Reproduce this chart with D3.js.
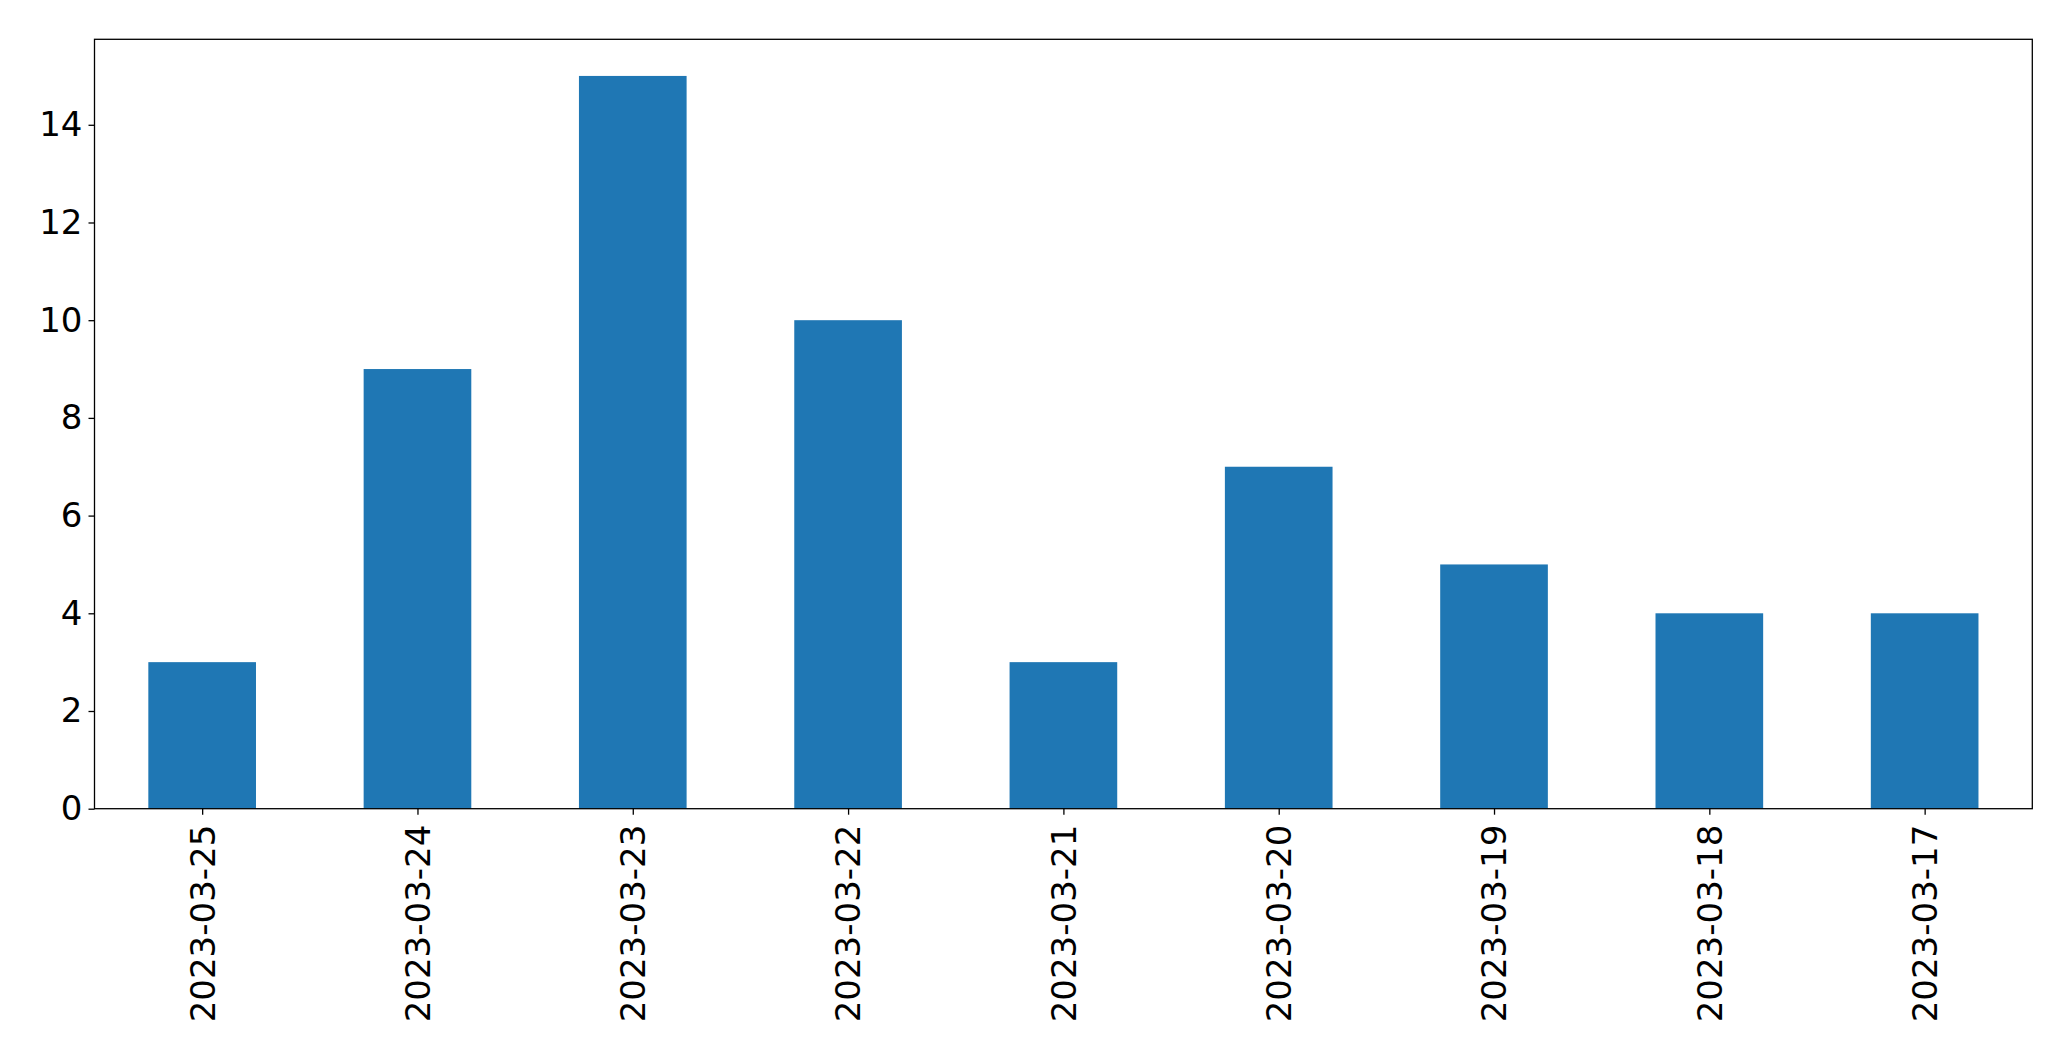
<!DOCTYPE html>
<html>
<head>
<meta charset="utf-8">
<script src="https://cdn.jsdelivr.net/npm/d3@7"></script>
<style>
html,body{margin:0;padding:0;background:#fff;}
svg{display:block;}
text{font-family:"DejaVu Sans",sans-serif;fill:#000;}
</style>
</head>
<body>
<script>
const categories = ["2023-03-25","2023-03-24","2023-03-23","2023-03-22","2023-03-21","2023-03-20","2023-03-19","2023-03-18","2023-03-17"];
const values = [3, 9, 15, 10, 3, 7, 5, 4, 4];
const yTicks = [0, 2, 4, 6, 8, 10, 12, 14];

const W = 2071, H = 1061;
const L = 94.5, R = 2032.3, T = 39.3, B = 808.7;
const fontSize = 34;

const svg = d3.select("body").append("svg").attr("width", W).attr("height", H);

const x = d3.scaleLinear().domain([-0.5, categories.length - 0.5]).range([L, R]);
const y = d3.scaleLinear().domain([0, d3.max(values) * 1.05]).range([B, T]);

svg.append("g").selectAll("rect").data(values).enter().append("rect")
  .attr("x", (d, i) => x(i - 0.25))
  .attr("width", (d, i) => x(i + 0.25) - x(i - 0.25))
  .attr("y", d => y(d))
  .attr("height", d => y(0) - y(d))
  .attr("fill", "#1f77b4");

const yAxis = d3.axisLeft(y).tickValues(yTicks).tickSize(6).tickPadding(6).tickFormat(d3.format("d"));
const gy = svg.append("g").attr("transform", `translate(${L},0)`).call(yAxis);
gy.select(".domain").remove();
gy.selectAll("line").attr("stroke", "#000").attr("stroke-width", 1.3);
gy.selectAll("text").attr("font-size", fontSize).attr("font-family", "DejaVu Sans");

const xAxis = d3.axisBottom(x).tickValues(d3.range(categories.length)).tickSize(6).tickFormat(i => categories[i]);
const gx = svg.append("g").attr("transform", `translate(0,${B})`).call(xAxis);
gx.select(".domain").remove();
gx.selectAll("line").attr("stroke", "#000").attr("stroke-width", 1.3);
gx.selectAll("text")
  .attr("font-size", fontSize).attr("font-family", "DejaVu Sans")
  .attr("transform", "rotate(-90)")
  .attr("text-anchor", "end")
  .attr("x", -16).attr("y", 0).attr("dy", "0.35em");

svg.append("rect").attr("x", L).attr("y", T).attr("width", R - L).attr("height", B - T)
  .attr("fill", "none").attr("stroke", "#000").attr("stroke-width", 1.3);
</script>
</body>
</html>
